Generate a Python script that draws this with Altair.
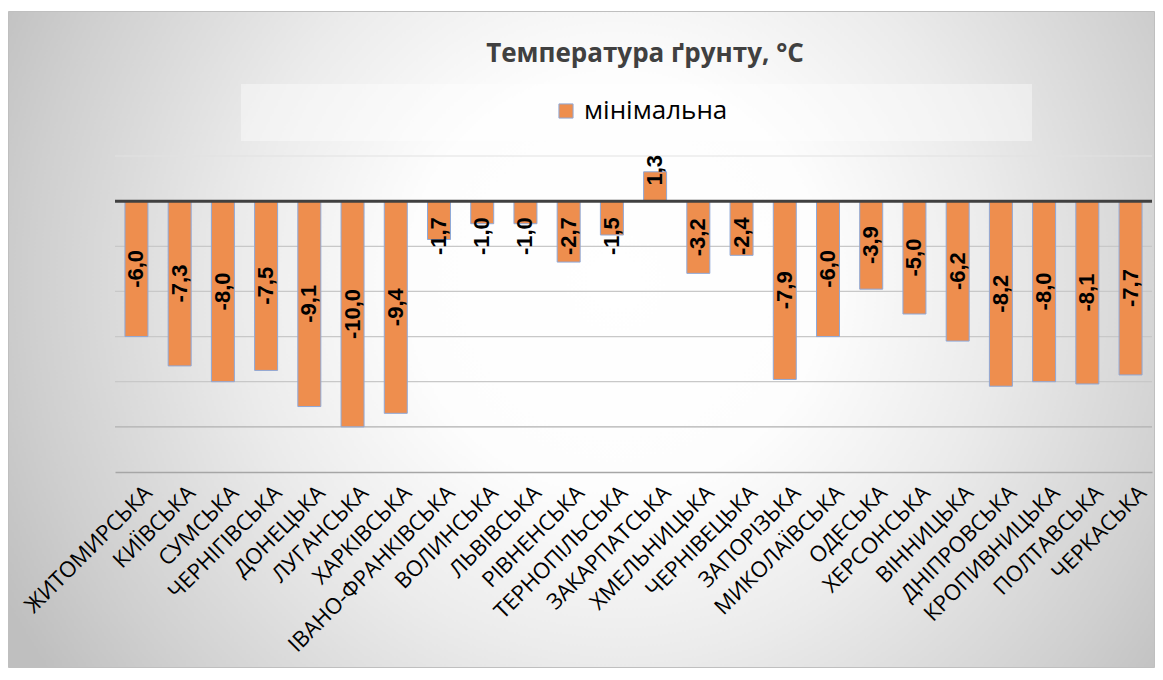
import altair as alt
import pandas as pd

# ---- data ----
regions = ["ЖИТОМИРСЬКА", "КИЇВСЬКА", "СУМСЬКА", "ЧЕРНІГІВСЬКА", "ДОНЕЦЬКА",
           "ЛУГАНСЬКА", "ХАРКІВСЬКА", "ІВАНО-ФРАНКІВСЬКА", "ВОЛИНСЬКА", "ЛЬВІВСЬКА",
           "РІВНЕНСЬКА", "ТЕРНОПІЛЬСЬКА", "ЗАКАРПАТСЬКА", "ХМЕЛЬНИЦЬКА", "ЧЕРНІВЕЦЬКА",
           "ЗАПОРІЗЬКА", "МИКОЛАЇВСЬКА", "ОДЕСЬКА", "ХЕРСОНСЬКА", "ВІННИЦЬКА",
           "ДНІПРОВСЬКА", "КРОПИВНИЦЬКА", "ПОЛТАВСЬКА", "ЧЕРКАСЬКА"]
min_temp = [-6.0, -7.3, -8.0, -7.5, -9.1, -10.0, -9.4, -1.7, -1.0, -1.0,
            -2.7, -1.5, 1.3, -3.2, -2.4, -7.9, -6.0, -3.9, -5.0, -6.2,
            -8.2, -8.0, -8.1, -7.7]
series_name = "мінімальна"
title_text = "Температура ґрунту, °C"
grid_values = [2, 0, -2, -4, -6, -8, -10]
y_domain = [-12, 2]

# ---- styles ----
grid_colors = ["#e2e2e2", "#c8c8c8", "#c8c8c8", "#c8c8c8", "#c8c8c8", "#c8c8c8", "#b0b0b0"]
BAR_FILL = "#EE8E4E"
BAR_STROKE = "#8EA8D8"
W, H = 1037, 316

df = pd.DataFrame({"region": regions, "v": min_temp, "series": series_name})
grid_df = pd.DataFrame({"g": grid_values})
one = pd.DataFrame({"k": [0]})
zero_df = pd.DataFrame({"z": [0]})

yscale = alt.Scale(domain=y_domain, nice=False, zero=False)
xscale = alt.Scale(paddingInner=0.468, paddingOuter=0.23)

x_enc = alt.X(
    "region:N", sort=regions, scale=xscale,
    axis=alt.Axis(title=None, labelAngle=-45, labelAlign="right", labelBaseline="top",
                  labelFont="Open Sans", labelFontSize=22, labelColor="black",
                  labelPadding=10, labelOffset=5, ticks=False, domain=True,
                  domainColor="#a6a6a6", domainWidth=1.5, grid=False, zindex=1,
                  labelLimit=0, labelOverlap=False, labelBound=False),
)

bg = alt.Chart(one).mark_rect(
    fill=alt.Gradient(
        gradient="radial",
        stops=[alt.GradientStop(color="#ffffff", offset=0),
               alt.GradientStop(color="#fdfdfd", offset=0.3),
               alt.GradientStop(color="#ebebeb", offset=0.55),
               alt.GradientStop(color="#cfcfcf", offset=0.85),
               alt.GradientStop(color="#bfbfbf", offset=1)],
        x1=0.53, y1=0.45, x2=0.53, y2=0.45, r1=0, r2=0.6),
    stroke="#bfbfbf", strokeWidth=1,
).encode(x=alt.value(-106.5), x2=alt.value(1039.5), y=alt.value(-144.5), y2=alt.value(511.5))

legend_box = alt.Chart(one).mark_rect(fill="#ffffff", opacity=0.4).encode(
    x=alt.value(126), x2=alt.value(917), y=alt.value(-72), y2=alt.value(-15))

title = alt.Chart(one).mark_text(
    text=title_text, font="Open Sans", fontSize=26, fontWeight="bold", color="#404040",
    align="center", baseline="alphabetic",
).encode(x=alt.value(530), y=alt.value(-94))

grid = alt.Chart(grid_df).mark_rule(strokeWidth=1.2).encode(
    y=alt.Y("g:Q", scale=yscale, axis=None),
    x=alt.value(0), x2=alt.value(W),
    stroke=alt.Stroke("g:O", scale=alt.Scale(domain=grid_values, range=grid_colors), legend=None),
)

bars = alt.Chart(df).mark_bar(stroke=BAR_STROKE, strokeWidth=1).encode(
    x=x_enc,
    y=alt.Y("v:Q", scale=yscale, axis=None),
    color=alt.Color("series:N", scale=alt.Scale(domain=[series_name], range=[BAR_FILL]),
                    legend=alt.Legend(title=None, orient="none", legendX=438, legendY=-58,
                                      symbolType="square", symbolSize=200,
                                      symbolStrokeColor=BAR_STROKE, symbolStrokeWidth=1,
                                      labelFont="Open Sans", labelFontSize=26,
                                      labelColor="black", labelOffset=5, padding=0)),
)

zero = alt.Chart(zero_df).mark_rule(color="#404040", strokeWidth=3).encode(
    y=alt.Y("z:Q", scale=yscale, axis=None), x=alt.value(0), x2=alt.value(W))

labels = alt.Chart(df).transform_calculate(
    lab="(datum.v < 0 ? '-' : '') + replace(format(abs(datum.v), '.1f'), '.', ',')",
    lp="datum.v < 0 ? min(datum.v / 2, -1.55) : max(datum.v / 2, 1.37)",
).mark_text(angle=270, font="Liberation Sans", fontWeight="bold", fontSize=22,
            color="black", align="center", baseline="middle").encode(
    x=alt.X("region:N", sort=regions, scale=xscale),
    y=alt.Y("lp:Q", scale=yscale, axis=None),
    text="lab:N",
)

chart = alt.layer(bg, legend_box, title, grid, bars, zero, labels).properties(
    width=W, height=H,
    padding={"left": 107, "top": 148, "right": 3, "bottom": 196},
    autosize=alt.AutoSizeParams(type="none"),
    background="white",
).configure_view(strokeWidth=0)

chart.save("out.html", embed_options={"renderer": "svg", "actions": False})
